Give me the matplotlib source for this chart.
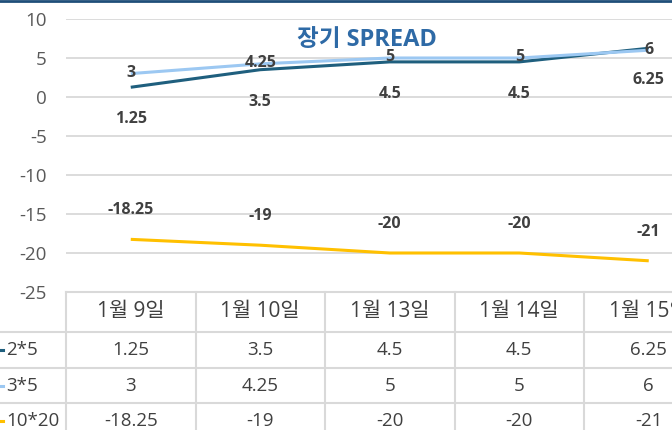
import matplotlib
matplotlib.use("Agg")
import matplotlib.pyplot as plt
from matplotlib.lines import Line2D

plt.rcParams['font.family'] = ['Open Sans', 'Noto Sans CJK KR', 'DejaVu Sans']

categories = ["1월 9일", "1월 10일", "1월 13일", "1월 14일", "1월 15일"]
series_names = ["2*5", "3*5", "10*20"]
s_2x5 = [1.25, 3.5, 4.5, 4.5, 6.25]
s_3x5 = [3, 4.25, 5, 5, 6]
s_10x20 = [-18.25, -19, -20, -20, -21]
yticks = [10, 5, 0, -5, -10, -15, -20, -25]
title = "장기 SPREAD"

colors = ["#1F5F7E", "#9CC8F2", "#FFC000"]
label_offsets = [-23, 0.5, 21]  # points
all_series = [s_2x5, s_3x5, s_10x20]

W, H = 672, 430
fig = plt.figure(figsize=(W / 100, H / 100), dpi=100)

def fx(x):
    return x / W

def fy(y):
    return 1 - y / H

left_px, top_px, bottom_px = 66, 19, 292
cat_w = 129.5
right_px = left_px + cat_w * len(categories)
ax = fig.add_axes([fx(left_px), fy(bottom_px), (right_px - left_px) / W, (bottom_px - top_px) / H])
ax.set_xlim(-0.5, len(categories) - 0.5)
ax.set_ylim(-25, 10)
ax.set_yticks(yticks)
ax.set_yticklabels([str(v) for v in yticks], fontsize=13.5, color="#595959")
ax.tick_params(axis='y', length=0, pad=14)
ax.set_xticks([])
for s in ax.spines.values():
    s.set_visible(False)
ax.grid(axis='y', color="#D9D9D9", linewidth=1.3)
ax.set_axisbelow(True)
ax.patch.set_alpha(0)

xs = list(range(len(categories)))
for vals, c, off in zip(all_series, colors, label_offsets):
    ax.plot(xs, vals, color=c, linewidth=2.2, solid_capstyle='butt', zorder=3)
for vals, c, off in zip(all_series, colors, label_offsets):
    for x, v in zip(xs, vals):
        ax.annotate(f"{v:g}", (x, v), xytext=(0, off), textcoords="offset points",
                    ha='center', va='center', fontsize=11.5, fontweight='bold',
                    color="#404040", zorder=5)

fig.text(fx(367), fy(40), title, ha='center', va='center', fontsize=17,
         fontweight='bold', color="#2E6AA6")

# top border line
fig.add_artist(Line2D([0, 1], [fy(1), fy(1)], color="#1F4E79", linewidth=2, transform=fig.transFigure))

# data table
grid_c = "#D9D9D9"
row_lines = [292, 332, 368, 403, 440]
for i, y in enumerate(row_lines):
    x0 = left_px if i == 0 else -5
    fig.add_artist(Line2D([fx(x0), fx(right_px)], [fy(y), fy(y)], color=grid_c, linewidth=1.5,
                          transform=fig.transFigure))
for k in range(len(categories) + 1):
    x = left_px + cat_w * k
    fig.add_artist(Line2D([fx(x), fx(x)], [fy(292), fy(440)], color=grid_c, linewidth=1.5,
                          transform=fig.transFigure))

header_y = 312
row_ys = [350, 386, 421]
for k, cat in enumerate(categories):
    cx = left_px + cat_w * (k + 0.5)
    fig.text(fx(cx), fy(header_y), cat, ha='center', va='center', fontsize=15, color="#404040")
    for vals, ry in zip(all_series, row_ys):
        fig.text(fx(cx), fy(ry), f"{vals[k]:g}", ha='center', va='center', fontsize=13.5, color="#404040")

for name, c, ry in zip(series_names, colors, row_ys):
    fig.add_artist(Line2D([fx(-6), fx(2.5)], [fy(ry), fy(ry)], color=c, linewidth=2.2,
                          transform=fig.transFigure))
    fig.text(fx(6), fy(ry), name, ha='left', va='center', fontsize=13.5, color="#404040")

fig.savefig("out.png", dpi=100)
